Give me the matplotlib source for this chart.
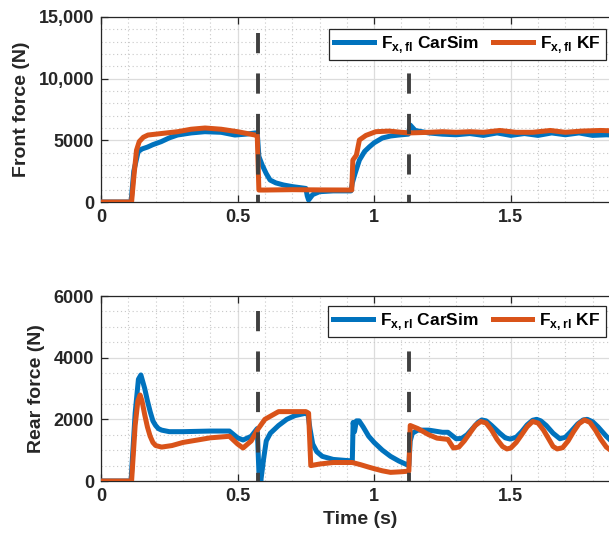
import matplotlib
matplotlib.use('Agg')
import matplotlib.pyplot as plt
from matplotlib.ticker import MultipleLocator

plt.rcParams['font.family'] = ['Liberation Sans', 'DejaVu Sans']
plt.rcParams['font.weight'] = 'bold'
plt.rcParams['axes.labelweight'] = 'bold'
plt.rcParams['mathtext.fontset'] = 'custom'
plt.rcParams['mathtext.bf'] = 'Liberation Sans:bold'
plt.rcParams['mathtext.rm'] = 'Liberation Sans:bold'

BLUE = '#0072BD'
ORANGE = '#D95319'

# front wheel longitudinal force, CarSim
t_front_cs = [0, 0.11, 0.12, 0.136, 0.15, 0.17, 0.19, 0.22, 0.25, 0.28, 0.33, 0.38, 0.44, 0.49, 0.53,
              0.565, 0.572, 0.578, 0.59, 0.605, 0.619, 0.64, 0.668, 0.7, 0.75, 0.755, 0.76, 0.775, 0.8,
              0.85, 0.915, 0.92, 0.93, 0.946, 0.965, 0.983, 1.0, 1.03, 1.06, 1.09, 1.125, 1.132, 1.15,
              1.2, 1.25, 1.3, 1.35, 1.4, 1.45, 1.5, 1.55, 1.6, 1.65, 1.7, 1.75, 1.8, 1.85, 1.9]
f_front_cs = [0, 0, 2500, 4080, 4300, 4450, 4650, 4890, 5200, 5430, 5600, 5700, 5650, 5430, 5500,
              5600, 5600, 3700, 3000, 2300, 1780, 1550, 1380, 1250, 1100, 500, 160, 600, 835,
              900, 900, 1540, 2300, 3400, 4100, 4480, 4800, 5190, 5350, 5430, 5500, 6240, 5800,
              5600, 5500, 5450, 5550, 5400, 5600, 5400, 5550, 5400, 5600, 5450, 5600, 5400, 5450, 5400]

# front wheel longitudinal force, KF estimate
t_front_kf = [0, 0.112, 0.12, 0.13, 0.14, 0.155, 0.172, 0.22, 0.28, 0.33, 0.381, 0.44, 0.5, 0.564,
              0.572, 0.578, 0.6, 0.7, 0.8, 0.918, 0.922, 0.935, 0.946, 0.97, 1.006, 1.055, 1.1, 1.13,
              1.2, 1.25, 1.3, 1.35, 1.4, 1.46, 1.52, 1.58, 1.645, 1.7, 1.76, 1.83, 1.9]
f_front_kf = [0, 0, 2000, 4200, 4900, 5250, 5430, 5550, 5700, 5900, 6000, 5900, 5700, 5430,
              5400, 970, 970, 1000, 980, 970, 3400, 3800, 5030, 5400, 5700, 5750, 5650, 5600,
              5650, 5700, 5650, 5700, 5650, 5800, 5650, 5650, 5800, 5650, 5750, 5800, 5750]

# rear wheel longitudinal force, CarSim
t_rear_cs = [0, 0.11, 0.125, 0.137, 0.146, 0.16, 0.17, 0.18, 0.19, 0.2, 0.21, 0.222, 0.25, 0.3, 0.4,
             0.47, 0.5, 0.52, 0.55, 0.572, 0.578, 0.585, 0.595, 0.605, 0.62, 0.65, 0.68, 0.71, 0.75,
             0.757, 0.765, 0.775, 0.79, 0.81, 0.85, 0.92, 0.923, 0.928, 0.935, 0.945, 0.96, 0.98, 1.0,
             1.03, 1.06, 1.09, 1.127, 1.132, 1.14, 1.16, 1.2, 1.25, 1.27, 1.3, 1.32, 1.34, 1.36, 1.38,
             1.394, 1.41, 1.43, 1.46, 1.48, 1.498, 1.52, 1.54, 1.56, 1.58, 1.595, 1.61, 1.63, 1.655,
             1.68, 1.7, 1.72, 1.745, 1.765, 1.78, 1.8, 1.82, 1.85, 1.87, 1.9]
f_rear_cs = [0, 0, 2200, 3300, 3440, 3000, 2600, 2250, 1950, 1800, 1700, 1650, 1600, 1600, 1620,
             1620, 1400, 1330, 1450, 1700, 300, 0, 700, 1300, 1550, 1800, 2000, 2120, 2200,
             2200, 1700, 1200, 950, 800, 700, 650, 1900, 1600, 1950, 1950, 1750, 1450, 1250,
             1000, 800, 650, 500, 1300, 1550, 1650, 1650, 1580, 1580, 1370, 1380, 1500, 1700, 1900,
             1980, 1950, 1800, 1550, 1400, 1360, 1420, 1600, 1820, 1970, 2000, 1950, 1800, 1550,
             1370, 1420, 1600, 1850, 1980, 2000, 1920, 1750, 1450, 1280, 1200]

# rear wheel longitudinal force, KF estimate
t_rear_kf = [0, 0.112, 0.125, 0.135, 0.143, 0.15, 0.16, 0.17, 0.18, 0.19, 0.2, 0.222, 0.26, 0.3,
             0.4, 0.47, 0.5, 0.52, 0.55, 0.572, 0.6, 0.63, 0.65, 0.75, 0.76, 0.768, 0.8, 0.85, 0.92,
             0.95, 0.98, 1.0, 1.03, 1.06, 1.1, 1.127, 1.132, 1.16, 1.2, 1.23, 1.27, 1.29, 1.31, 1.33,
             1.35, 1.37, 1.39, 1.41, 1.43, 1.45, 1.47, 1.486, 1.5, 1.52, 1.54, 1.56, 1.58, 1.6, 1.62,
             1.64, 1.655, 1.67, 1.69, 1.71, 1.73, 1.75, 1.77, 1.79, 1.81, 1.83, 1.85, 1.87, 1.9]
f_rear_kf = [0, 0, 1800, 2600, 2790, 2600, 2150, 1750, 1450, 1250, 1150, 1100, 1150, 1250,
             1400, 1450, 1200, 1070, 1300, 1650, 2000, 2150, 2250, 2250, 2200, 500, 550, 600, 600,
             530, 450, 400, 330, 280, 300, 320, 1800, 1700, 1500, 1390, 1350, 1070, 1100, 1300,
             1550, 1800, 1930, 1880, 1650, 1350, 1120, 1040, 1070, 1250, 1500, 1760, 1930, 1880, 1650,
             1350, 1120, 1040, 1080, 1300, 1600, 1860, 1980, 1900, 1650, 1350, 1100, 970, 930]

event_times = [0.573, 1.126]

front_yticks = [0, 5000, 10000, 15000]
front_ylabels = ['0', '5000', '10,000', '15,000']
rear_yticks = [0, 2000, 4000, 6000]
rear_ylabels = ['0', '2000', '4000', '6000']
xticks = [0, 0.5, 1, 1.5]
xlabels = ['0', '0.5', '1', '1.5']

W, H = 609, 541
fig = plt.figure(figsize=(W / 100, H / 100), dpi=100)
left = 101 / W
width = (620 - 101) / W
ax1 = fig.add_axes([left, 1 - 202 / H, width, 185 / H])
ax2 = fig.add_axes([left, 1 - 481 / H, width, 185 / H])


def style(ax, yt, yl, ymax, yminor):
    ax.set_xlim(0, 1.9)
    ax.set_ylim(0, ymax)
    ax.set_xticks(xticks)
    ax.set_xticklabels(xlabels)
    ax.set_yticks(yt)
    ax.set_yticklabels(yl)
    ax.xaxis.set_minor_locator(MultipleLocator(0.1))
    ax.yaxis.set_minor_locator(MultipleLocator(yminor))
    ax.grid(True, which='major', color='#dcdcdc', lw=0.9, ls='-')
    ax.grid(True, which='minor', color='#c8c8c8', lw=0.8, ls=(0, (1, 2.5)))
    ax.set_axisbelow(True)
    ax.tick_params(which='both', direction='in', top=True, right=True, labelsize=13,
                   colors='#262626', pad=5)
    ax.tick_params(which='major', length=5, width=0.9)
    ax.tick_params(which='minor', length=0)
    for s in ax.spines.values():
        s.set_color('#262626')
        s.set_linewidth(0.9)


style(ax1, front_yticks, front_ylabels, 15000, 1000)
style(ax2, rear_yticks, rear_ylabels, 6000, 500)

ax1.plot(t_front_cs, f_front_cs, color=BLUE, lw=3.6, label=r'$\mathbf{F}_{\mathbf{x,fl}}$ CarSim',
         zorder=3, solid_joinstyle='round')
ax1.plot(t_front_kf, f_front_kf, color=ORANGE, lw=3.6, label=r'$\mathbf{F}_{\mathbf{x,fl}}$ KF',
         zorder=4, solid_joinstyle='round')
ax2.plot(t_rear_cs, f_rear_cs, color=BLUE, lw=3.6, label=r'$\mathbf{F}_{\mathbf{x,rl}}$ CarSim',
         zorder=3, solid_joinstyle='round')
ax2.plot(t_rear_kf, f_rear_kf, color=ORANGE, lw=3.6, label=r'$\mathbf{F}_{\mathbf{x,rl}}$ KF',
         zorder=4, solid_joinstyle='round')

for ax, top in ((ax1, 13700), (ax2, 5500)):
    for te in event_times:
        ax.plot([te, te], [top, 0], color='#404040', lw=2.8, dashes=(5.2, 5.2), zorder=5,
                solid_capstyle='butt', dash_capstyle='butt')

ax1.set_ylabel('Front force (N)', fontsize=14, color='#262626', labelpad=6)
ax2.set_ylabel('Rear force (N)', fontsize=14, color='#262626', labelpad=6)
ax2.set_xlabel('Time (s)', fontsize=14, color='#262626', labelpad=4)

for ax, ytop in ((ax1, 29), (ax2, 306)):
    leg = ax.legend(loc='upper right', bbox_to_anchor=(606 / W, 1 - ytop / H),
                    bbox_transform=fig.transFigure, ncol=2, fontsize=12.5, frameon=True,
                    fancybox=False, framealpha=1, edgecolor='#262626', borderaxespad=0,
                    handlelength=2.3, columnspacing=0.8, handletextpad=0.4, borderpad=0.3)
    leg.get_frame().set_linewidth(0.9)
    leg.set_zorder(10)

fig.savefig('out.png', dpi=100)
